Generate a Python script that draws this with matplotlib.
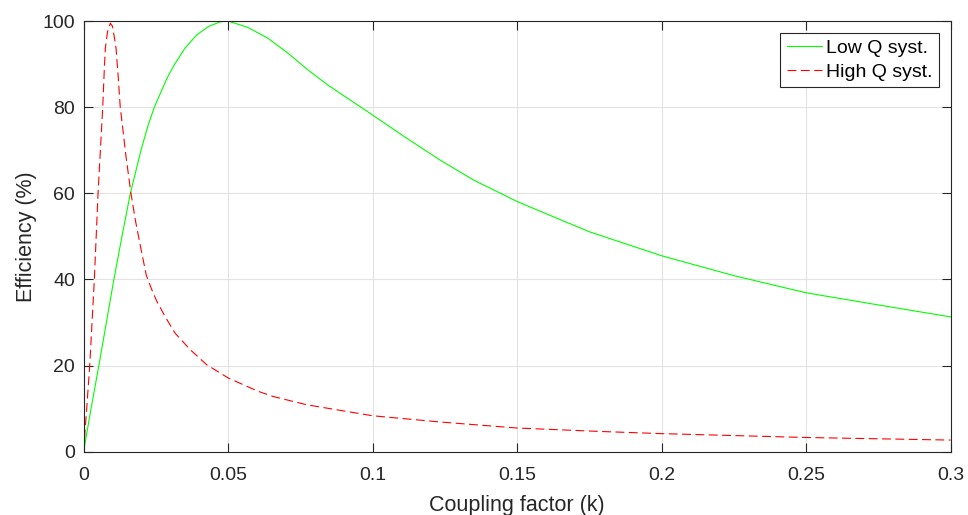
import matplotlib.pyplot as plt

plt.rcParams['font.family'] = ['Liberation Sans', 'DejaVu Sans']

# coupling factor / efficiency
k_low = [0, 0.0026, 0.0053, 0.0105, 0.0133, 0.0162, 0.020, 0.0224, 0.0245, 0.0288,
         0.0311, 0.0351, 0.0392, 0.0432, 0.0472, 0.050, 0.0569, 0.0638, 0.0708, 0.0777,
         0.0846, 0.0915, 0.0984, 0.1118, 0.1234, 0.1349, 0.150, 0.1638, 0.1753, 0.200,
         0.2249, 0.250, 0.2757, 0.300]
eff_low = [0, 10, 20, 40, 50, 60, 70.3, 75.9, 80, 86.6,
           89.5, 93.7, 96.8, 98.7, 99.8, 100, 98.5, 96.0, 92.5, 88.6,
           85.1, 82.0, 78.9, 72.8, 67.7, 63.1, 58.1, 54.2, 51.0, 45.5,
           40.9, 36.9, 34.0, 31.3]

k_high = [0, 0.0012, 0.00214, 0.00374, 0.00502, 0.00664, 0.0072, 0.00755, 0.0083, 0.00928,
          0.0100, 0.0106, 0.01125, 0.0120, 0.0127, 0.0133, 0.0147, 0.0164, 0.0180, 0.0199,
          0.0217, 0.0235, 0.0253, 0.0282, 0.0317, 0.0369, 0.0426, 0.0501, 0.0605, 0.0657,
          0.0772, 0.100, 0.1234, 0.150, 0.1788, 0.200, 0.250, 0.300]
eff_high = [0, 11, 20, 40, 60, 80, 89, 93.7, 97.5, 99.5,
            98.8, 96.5, 93.7, 87, 80, 76.6, 68.5, 60, 53.5, 47,
            41, 37.8, 35.0, 31.4, 27.5, 23.7, 20.2, 17.1, 14.0, 12.8,
            10.9, 8.35, 6.9, 5.5, 4.7, 4.2, 3.3, 2.7]

x_ticks = [0, 0.05, 0.1, 0.15, 0.2, 0.25, 0.3]
x_tick_labels = ['0', '0.05', '0.1', '0.15', '0.2', '0.25', '0.3']
y_ticks = [0, 20, 40, 60, 80, 100]

axis_col = '#262626'

fig = plt.figure(figsize=(9.68, 5.15), dpi=100)
ax = fig.add_axes([0.0863, 0.1229, 0.8957, 0.8363])

ax.plot(k_low, eff_low, color=(0, 1, 0), lw=0.8, label='Low Q syst.')
ax.plot(k_high, eff_high, color=(1, 0, 0), lw=0.8, dashes=(8, 4), label='High Q syst.')

ax.set_xlim(0, 0.3)
ax.set_ylim(0, 100)
ax.set_xticks(x_ticks)
ax.set_xticklabels(x_tick_labels)
ax.set_yticks(y_ticks)

ax.grid(True, color='#e3e3e3', lw=0.8)
ax.set_axisbelow(True)
for s in ax.spines.values():
    s.set_color(axis_col)
    s.set_linewidth(0.8)
ax.tick_params(direction='in', length=6.5, width=0.8, colors=axis_col,
               labelsize=14, top=True, right=True)
ax.tick_params(axis='x', pad=11)
ax.tick_params(axis='y', pad=6)
for lab in ax.get_xticklabels() + ax.get_yticklabels():
    lab.set_color(axis_col)

ax.set_xlabel('Coupling factor (k)', fontsize=15.5, color=axis_col, labelpad=8)
ax.set_ylabel('Efficiency (%)', fontsize=15.5, color=axis_col, labelpad=4)

leg = ax.legend(loc='upper right', fontsize=14, frameon=True, fancybox=False,
                edgecolor=axis_col, framealpha=1, handlelength=1.8,
                handletextpad=0.2, borderpad=0.35, labelspacing=0.3,
                borderaxespad=0.6)
leg.get_frame().set_linewidth(0.8)

fig.savefig('out.png', dpi=100)
